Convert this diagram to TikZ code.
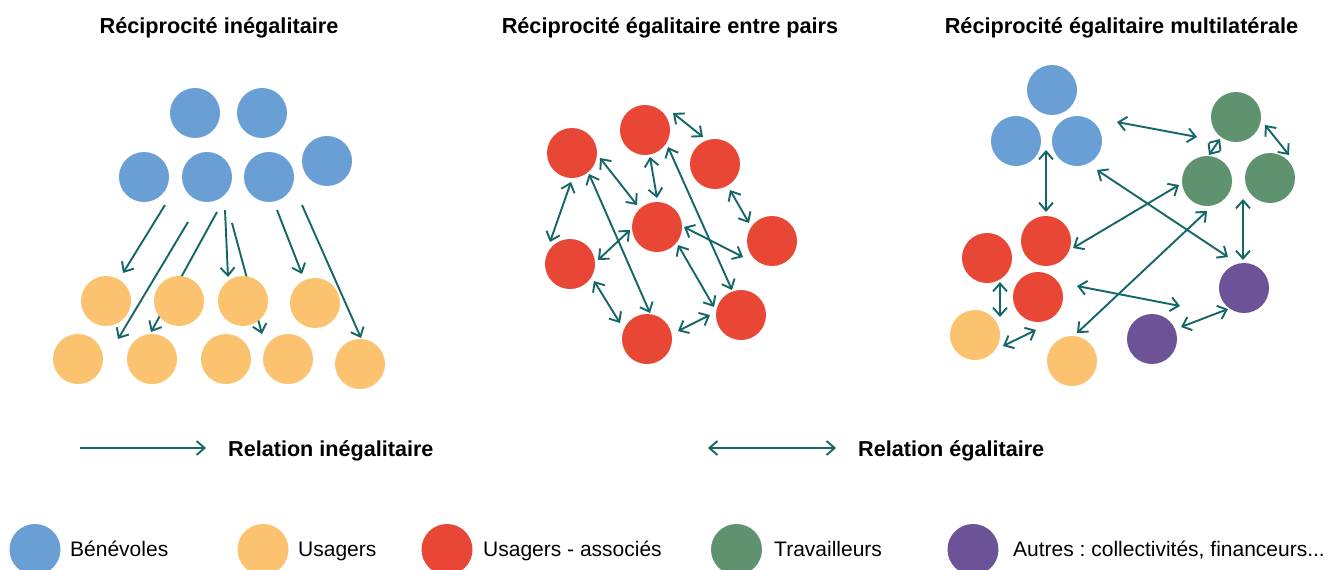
\documentclass[tikz,border=0pt]{standalone}
\usepackage{fontspec}
\setmainfont{Liberation Sans}
\frenchspacing
\usetikzlibrary{arrows.meta,calc,backgrounds}
\definecolor{benevole}{HTML}{6A9FD6}
\definecolor{usager}{HTML}{FBC36F}
\definecolor{associe}{HTML}{E84736}
\definecolor{travail}{HTML}{5F9370}
\definecolor{autre}{HTML}{6C5397}
\definecolor{fleche}{HTML}{156767}

\begin{document}
\begin{tikzpicture}[x=1pt,y=1pt,yscale=-1,
  pers/.style={circle,inner sep=0pt,minimum size=50pt},
  ben/.style={pers,fill=benevole},
  usa/.style={pers,fill=usager},
  aso/.style={pers,fill=associe},
  tra/.style={pers,fill=travail},
  aut/.style={pers,fill=autre},
  titre/.style={anchor=base,inner sep=0pt,font=\bfseries\fontsize{21.7}{26}\selectfont},
  leg/.style={anchor=base west,inner sep=0pt,font=\fontsize{21}{25}\selectfont},
  legrel/.style={leg,font=\bfseries\fontsize{21.6}{26}\selectfont},
  ineg/.style={draw=fleche,line width=1.9pt,-{Straight Barb[length=8pt,width=14pt]}},
  egal/.style={draw=fleche,line width=1.9pt,{Straight Barb[length=8pt,width=14pt]}-{Straight Barb[length=8pt,width=14pt]}},
]
\useasboundingbox (0,0) rectangle (1333,570);

% titres
\node[titre] (t1) at (219,33.5) {Réciprocité inégalitaire};
\node[titre] (t2) at (670,33.5) {Réciprocité égalitaire entre pairs};
\node[titre] (t3) at (1121.5,33.5) {Réciprocité égalitaire multilatérale};

% reciprocite inegalitaire
\node[ben] (B1) at (195,113) {};
\node[ben] (B2) at (262,113) {};
\node[ben] (B3) at (144,177) {};
\node[ben] (B4) at (207,177) {};
\node[ben] (B5) at (269,177) {};
\node[ben] (B6) at (327,161) {};
\node[usa] (O1) at (106,301) {};
\node[usa] (O2) at (179,301) {};
\node[usa] (O3) at (243,301) {};
\node[usa] (O4) at (315,303) {};
\node[usa] (O5) at (78,359) {};
\node[usa] (O6) at (152,359) {};
\node[usa] (O7) at (226,359) {};
\node[usa] (O8) at (288,359) {};
\node[usa] (O9) at (360,364) {};

% entre pairs
\node[aso] (R1) at (572,153) {};
\node[aso] (R2) at (645,130) {};
\node[aso] (R3) at (715,164) {};
\node[aso] (R4) at (657,227) {};
\node[aso] (R5) at (772,241) {};
\node[aso] (R6) at (570,264) {};
\node[aso] (R7) at (741,315) {};
\node[aso] (R8) at (647,339) {};

% multilaterale
\node[ben] (A1) at (1052,90) {};
\node[ben] (A2) at (1016,141) {};
\node[ben] (A3) at (1077,141) {};
\node[tra] (G1) at (1236,117) {};
\node[tra] (G2) at (1207,181) {};
\node[tra] (G3) at (1270,178) {};
\node[aso] (Q1) at (1046,241) {};
\node[aso] (Q2) at (987,258) {};
\node[aso] (Q3) at (1038,297) {};
\node[usa] (U1) at (975,335) {};
\node[usa] (U2) at (1072,361) {};
\node[aut] (P1) at (1244,288) {};
\node[aut] (P2) at (1152,339) {};

\begin{scope}[on background layer]
  \fill[white] (0,0) rectangle (1333,570);
  \foreach \a/\p/\b/\q in {B3/{21,28}/O1/{17,-28}, B4/{-19,45}/O6/{-34,-20},
      B4/{10,35}/O6/{-1,-27}, B4/{18,33}/O3/{-15,-24}, B4/{25,46}/O3/{19,33},
      B5/{8,33}/O4/{-13,-29}, B5/{33,28}/O9/{1,-26}}
    \draw[ineg] ($(\a)+(\p)$) -- ($(\b)+(\q)$);
  \foreach \a/\p/\b/\q in {R2/{28,-17}/R3/{-12,-27}, R1/{28,5}/R4/{-20,-22},
      R2/{5,27}/R4/{0,-29}, R3/{15,26}/R5/{-23,-18}, R1/{-1,29}/R6/{-20,-22},
      R4/{-27,3}/R6/{28,-4}, R1/{17,21}/R8/{3,-26}, R2/{23,17}/R7/{-9,-25},
      R4/{27,0}/R5/{-29,16}, R6/{24,17}/R8/{-27,-16}, R4/{21,18}/R7/{-27,-8},
      R8/{31,-8}/R7/{-31,0}}
    \draw[egal] ($(\a)+(\p)$) -- ($(\b)+(\q)$);
  \foreach \a/\p/\b/\q in {A3/{40,-19}/G1/{-39,20}, G1/{-16,22}/G2/{2,-26},
      G1/{29,8}/G3/{19,-23}, A2/{30,9}/Q1/{0,-29}, A3/{20,29}/P1/{-16,-31},
      G2/{-28,4}/Q1/{27,7}, G2/{0,30}/U2/{5,-28}, G3/{-27,21}/P1/{-1,-28},
      Q3/{39,-11}/P2/{28,-33}, Q2/{13,24}/U1/{25,-18}, U1/{28,11}/Q3/{-2,33},
      P2/{29,-12}/P1/{-16,21}}
    \draw[egal] ($(\a)+(\p)$) -- ($(\b)+(\q)$);
\end{scope}

% legende
\coordinate (ia) at (80,448);
\coordinate (ib) at (206,448);
\draw[ineg] (ia) -- (ib);
\node[legrel] (li) at (228,456) {Relation inégalitaire};
\coordinate (ea) at (708,448);
\coordinate (eb) at (836,448);
\draw[egal] (ea) -- (eb);
\node[legrel] (le) at (858,456) {Relation égalitaire};

\node[ben,minimum size=51pt] (kb) at (35,549.5) {};
\node[leg] (kbt) at (70,556) {Bénévoles};
\node[usa,minimum size=51pt] (ku) at (263,549.5) {};
\node[leg] (kut) at (298,556) {Usagers};
\node[aso,minimum size=51pt] (ka) at (447,549.5) {};
\node[leg] (kat) at (483,556) {Usagers - associés};
\node[tra,minimum size=51pt] (kt) at (736.5,549.5) {};
\node[leg] (ktt) at (774,556) {Travailleurs};
\node[aut,minimum size=51pt] (ko) at (973,549.5) {};
\node[leg] (kot) at (1013,556) {Autres : collectivités, financeurs...};
\end{tikzpicture}
\end{document}
